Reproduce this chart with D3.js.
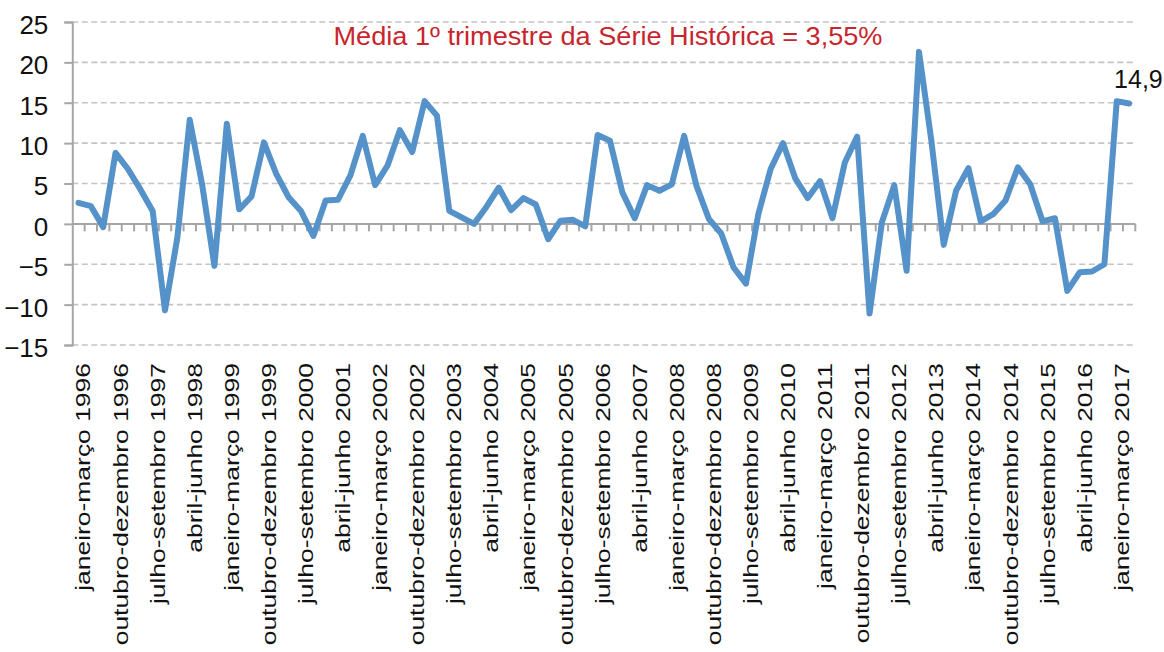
<!DOCTYPE html>
<html>
<head>
<meta charset="utf-8">
<script src="https://cdn.jsdelivr.net/npm/d3@7"></script>
<style>
  html, body { margin: 0; padding: 0; background: #fff; }
  text { font-family: "Liberation Sans", Arial, sans-serif; }
</style>
</head>
<body>
<svg id="chart" width="1164" height="652"></svg>
<script>
// ---- data ----
const quarterNames = ["janeiro-março", "abril-junho", "julho-setembro", "outubro-dezembro"];
const years = d3.range(1996, 2018);
const categories = [];
years.forEach(yr => quarterNames.forEach(q => categories.push(q + " " + yr)));
categories.splice(86); // 1996 Q1 .. 2017 Q2

const values = [
  2.6, 2.2, -0.4, 8.8, 6.8, 4.3, 1.6, -10.7, -1.7, 12.9,
  4.9, -5.2, 12.4, 1.8, 3.4, 10.1, 6.2, 3.3, 1.6, -1.5,
  2.9, 3.0, 6.0, 10.9, 4.8, 7.2, 11.6, 8.9, 15.2, 13.4,
  1.6, 0.8, 0.0, 2.1, 4.5, 1.7, 3.2, 2.4, -1.9, 0.4,
  0.5, -0.3, 11.0, 10.3, 3.9, 0.7, 4.8, 4.1, 4.9, 10.9,
  4.7, 0.6, -1.2, -5.4, -7.4, 1.2, 6.8, 10.0, 5.6, 3.2,
  5.3, 0.7, 7.6, 10.8, -11.1, 0.2, 4.8, -5.8, 21.3, 10.3,
  -2.6, 4.1, 6.9, 0.3, 1.2, 2.9, 7.0, 4.9, 0.3, 0.7,
  -8.3, -6.0, -5.9, -5.0, 15.2, 14.9
];

const yTicks = [-15, -10, -5, 0, 5, 10, 15, 20, 25];
const labelEvery = 3;
const titleText = "Média 1º trimestre da Série Histórica = 3,55%";
const lastLabel = "14,9";

// ---- layout ----
const svg = d3.select("#chart");
const mLeft = 72.3, mRight = 1135.3, mTop = 22, mBottom = 345;

const x = d3.scaleBand().domain(categories).range([mLeft, mRight]).padding(0);
const y = d3.scaleLinear().domain([-15, 25]).range([mBottom, mTop]);
const cx = d => x(d) + x.bandwidth() / 2;

const gridColor = "#c4c4c4";
const axisColor = "#a6a6a6";

// grid lines (dashed)
svg.append("g").selectAll("line")
  .data(yTicks.filter(t => t !== 0))
  .join("line")
  .attr("x1", mLeft).attr("x2", mRight)
  .attr("y1", d => y(d)).attr("y2", d => y(d))
  .attr("stroke", gridColor).attr("stroke-width", 1.6)
  .attr("stroke-dasharray", "6,3.5");

// y axis
const yAxis = svg.append("g")
  .attr("transform", `translate(${mLeft},0)`)
  .call(d3.axisLeft(y).tickValues(yTicks).tickSize(8).tickPadding(16).tickFormat(d3.format("d")));
yAxis.select(".domain").attr("stroke", axisColor).attr("stroke-width", 2);
yAxis.selectAll(".tick line").attr("stroke", axisColor).attr("stroke-width", 2);
yAxis.selectAll(".tick text")
  .attr("font-size", 26).attr("fill", "#111")
  .attr("dy", "0.44em")
  .style("font-family", "'Liberation Sans', Arial, sans-serif");

// zero axis line with ticks at category boundaries
const zeroG = svg.append("g");
zeroG.append("line")
  .attr("x1", mLeft).attr("x2", mRight)
  .attr("y1", y(0)).attr("y2", y(0))
  .attr("stroke", axisColor).attr("stroke-width", 2);
const boundaries = categories.map(c => x(c)).concat([x(categories[categories.length - 1]) + x.bandwidth()]);
zeroG.selectAll("line.tk")
  .data(boundaries.slice(1))
  .join("line").attr("class", "tk")
  .attr("x1", d => d).attr("x2", d => d)
  .attr("y1", y(0)).attr("y2", y(0) + 7.5)
  .attr("stroke", axisColor).attr("stroke-width", 2);

// category labels (rotated)
const labelCats = categories.filter((c, i) => i % labelEvery === 0);
svg.append("g").selectAll("text")
  .data(labelCats)
  .join("text")
  .attr("transform", d => `translate(${cx(d) + 12},363) rotate(-90) scale(1.26,1)`)
  .attr("text-anchor", "end")
  .attr("font-size", 21)
  .attr("fill", "#111")
  .text(d => d);

// line
const line = d3.line()
  .x((d, i) => cx(categories[i]))
  .y(d => y(d));
svg.append("path")
  .datum(values)
  .attr("d", line)
  .attr("fill", "none")
  .attr("stroke", "#5592c9")
  .attr("stroke-width", 6)
  .attr("stroke-linejoin", "round")
  .attr("stroke-linecap", "round");

// title
svg.append("text")
  .attr("x", 608).attr("y", 45)
  .attr("text-anchor", "middle")
  .attr("font-size", 26)
  .attr("textLength", 549)
  .attr("lengthAdjust", "spacingAndGlyphs")
  .attr("fill", "#c8252c")
  .text(titleText);

// last value label
const lastCat = categories[categories.length - 1];
svg.append("text")
  .attr("x", cx(lastCat) - 15)
  .attr("y", y(values[values.length - 1]) - 16)
  .attr("font-size", 25)
  .attr("fill", "#111")
  .text(lastLabel);
</script>
</body>
</html>
